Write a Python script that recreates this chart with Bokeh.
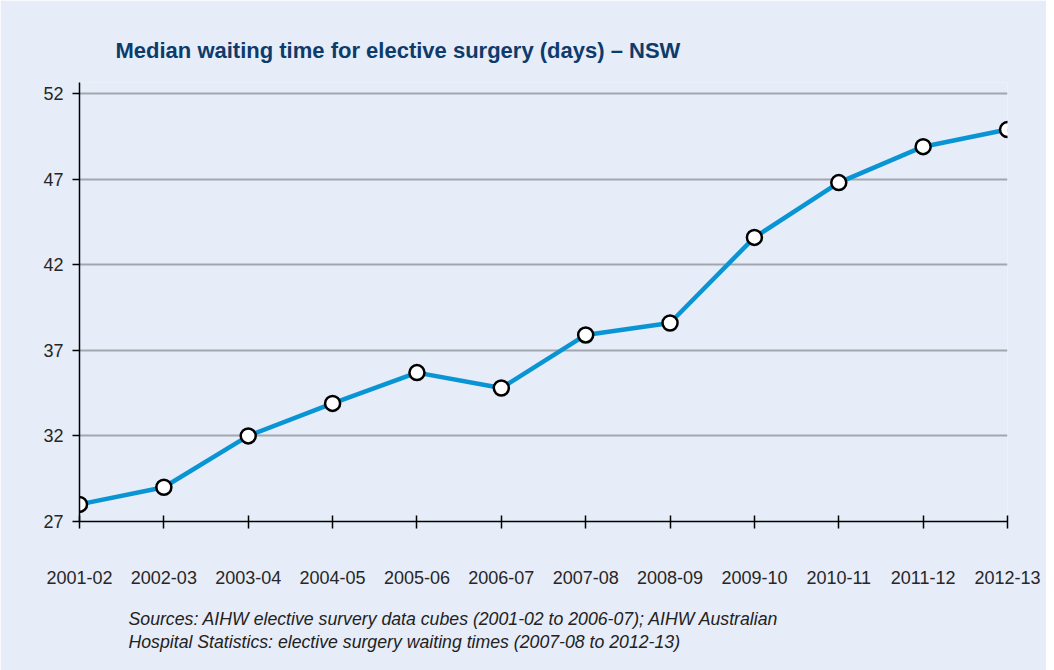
from bokeh.plotting import figure
from bokeh.models import FixedTicker, Title, ColumnDataSource, Range1d
from bokeh.embed import file_html
from bokeh.resources import INLINE

categories = ["2001-02", "2002-03", "2003-04", "2004-05", "2005-06", "2006-07",
              "2007-08", "2008-09", "2009-10", "2010-11", "2011-12", "2012-13"]
median_days = [28, 29, 32, 33.9, 35.7, 34.8, 37.9, 38.6, 43.6, 46.8, 48.9, 49.9]
y_ticks = [27, 32, 37, 42, 47, 52]
footnote = ["Sources: AIHW elective survery data cubes (2001-02 to 2006-07); AIHW Australian",
            "Hospital Statistics: elective surgery waiting times (2007-08 to 2012-13)"]

BG = "#e6ecf8"
FONT = "Liberation Sans"

xs = list(range(len(categories)))
src = ColumnDataSource(dict(x=xs, y=median_days, cat=categories))

p = figure(width=1046, height=672, output_backend="svg", toolbar_location=None,
           x_range=Range1d(0, len(categories) - 1), y_range=Range1d(27, 52.65),
           min_border_left=79, min_border_right=39, min_border_top=82, min_border_bottom=150)
p.background_fill_color = BG
p.border_fill_color = BG
p.outline_line_color = None

p.title = Title(text="Median waiting time for elective surgery (days) \u2013 NSW",
                text_font=FONT, text_font_size="22px", text_font_style="bold",
                text_color="#0d3b6c", align="left", offset=36, standoff=39)

p.line("x", "y", source=src, line_color="#0995d4", line_width=4.5)
p.scatter("x", "y", source=src, size=15, fill_color="white",
          line_color="black", line_width=2.5)

# axes
p.xaxis.ticker = FixedTicker(ticks=xs)
p.xaxis.major_label_overrides = {i: c for i, c in enumerate(categories)}
p.yaxis.ticker = FixedTicker(ticks=y_ticks)
for ax in (p.xaxis[0], p.yaxis[0]):
    ax.axis_line_color = "black"
    ax.axis_line_width = 1.5
    ax.major_tick_line_color = "black"
    ax.major_tick_line_width = 1.5
    ax.minor_tick_line_color = None
    ax.major_label_text_font = FONT
    ax.major_label_text_font_size = "18px"
    ax.major_label_text_color = "#262626"
p.xaxis.major_tick_in = 6
p.xaxis.major_tick_out = 7
p.xaxis.major_label_standoff = 42
p.yaxis.major_tick_in = 0
p.yaxis.major_tick_out = 7
p.yaxis.major_label_standoff = 9

p.xgrid.grid_line_color = None
p.ygrid.grid_line_color = "#a3a6ad"
p.ygrid.grid_line_width = 2

foot = Title(text="\n".join(footnote),
             text_font=FONT, text_font_size="17.7px", text_font_style="italic",
             text_color="#222222", align="left", offset=49, standoff=40,
             text_line_height=1.18)
p.add_layout(foot, "below")

open("out.html", "w").write(file_html(p, INLINE))
